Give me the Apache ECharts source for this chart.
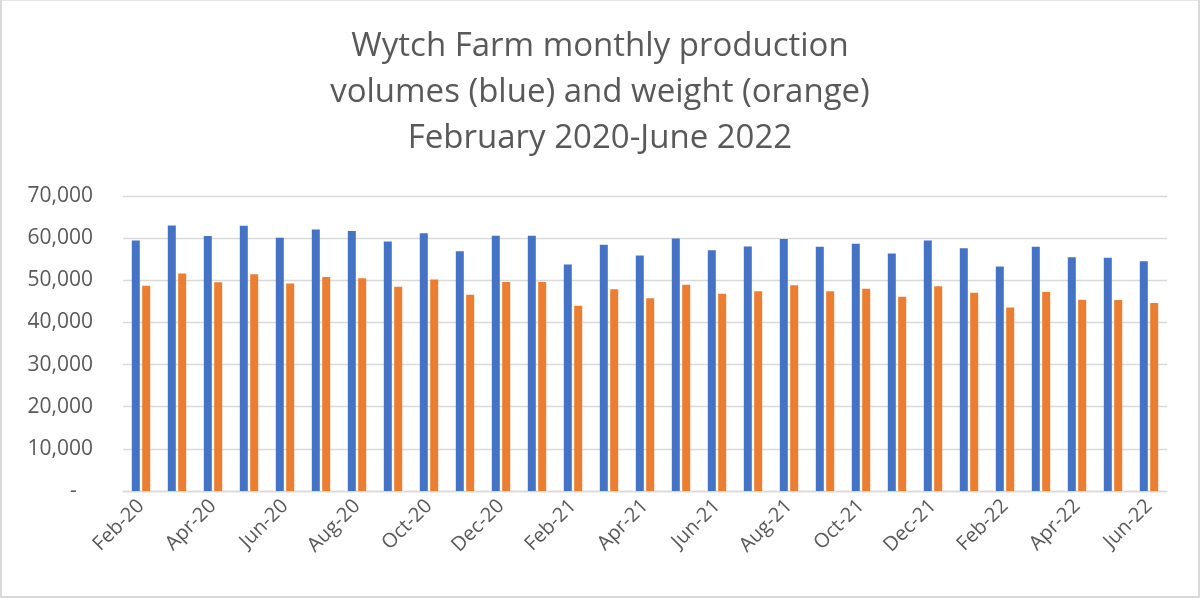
<!DOCTYPE html>
<html>
<head>
<meta charset="utf-8">
<script src="https://cdn.jsdelivr.net/npm/echarts@6/dist/echarts.min.js"></script>
<style>
  html, body { margin: 0; padding: 0; background: #fff; }
  #chart { width: 1200px; height: 598px; box-sizing: border-box; border: 2px solid #d9d9d9; border-top: 1px solid #e6e6e6; }
</style>
</head>
<body>
<div id="chart"></div>
<script>
const months = ['Feb-20','Mar-20','Apr-20','May-20','Jun-20','Jul-20','Aug-20','Sep-20','Oct-20','Nov-20','Dec-20',
  'Jan-21','Feb-21','Mar-21','Apr-21','May-21','Jun-21','Jul-21','Aug-21','Sep-21','Oct-21','Nov-21','Dec-21',
  'Jan-22','Feb-22','Mar-22','Apr-22','May-22','Jun-22'];
const volumes = [59450, 63020, 60480, 62940, 60080, 62070, 61670, 59210, 61190, 56910, 60560,
  60560, 53730, 58420, 55880, 59920, 57150, 58020, 59770, 57940, 58650, 56350, 59450,
  57620, 53260, 57940, 55480, 55320, 54530];
const weights = [48730, 51590, 49530, 51430, 49210, 50800, 50480, 48490, 50160, 46590, 49610,
  49610, 43970, 47860, 45720, 48970, 46830, 47380, 48810, 47380, 48020, 46110, 48570,
  47070, 43570, 47220, 45400, 45320, 44600];
const titleLines = ['Wytch Farm monthly production', 'volumes (blue) and weight (orange)', 'February 2020-June 2022'];

const chart = echarts.init(document.getElementById('chart'));
const font = '"Open Sans", sans-serif';
chart.setOption({
  animation: false,
  title: {
    text: titleLines.join('\n'),
    left: 'center',
    top: 23,
    padding: 0,
    textStyle: { fontFamily: font, fontSize: 33, fontWeight: 'normal', color: '#595959', lineHeight: 46 }
  },
  grid: { left: 121, right: 31, top: 195, bottom: 105, containLabel: false },
  xAxis: {
    type: 'category',
    data: months,
    boundaryGap: true,
    axisLine: { lineStyle: { color: '#d9d9d9', width: 1.3 } },
    axisTick: { interval: 1, length: 6, lineStyle: { color: '#d9d9d9', width: 1.3 } },
    axisLabel: { interval: 1, rotate: 45, margin: 12, fontFamily: font, fontSize: 20, color: '#595959' }
  },
  yAxis: {
    type: 'value',
    min: 0, max: 70000, interval: 10000,
    axisLine: { show: false },
    axisTick: { show: false },
    splitLine: { lineStyle: { color: '#d9d9d9', width: 1.3 } },
    axisLabel: {
      margin: 30, fontFamily: font, fontSize: 21, color: '#595959',
      formatter: v => v === 0 ? '-   ' : v.toLocaleString('en-US')
    }
  },
  series: [
    { name: 'Volume', type: 'bar', data: volumes, barWidth: 8, barGap: '30%', itemStyle: { color: '#4472C4' } },
    { name: 'Weight', type: 'bar', data: weights, barWidth: 8, barGap: '30%', itemStyle: { color: '#ED7D31' } }
  ]
});
</script>
</body>
</html>
